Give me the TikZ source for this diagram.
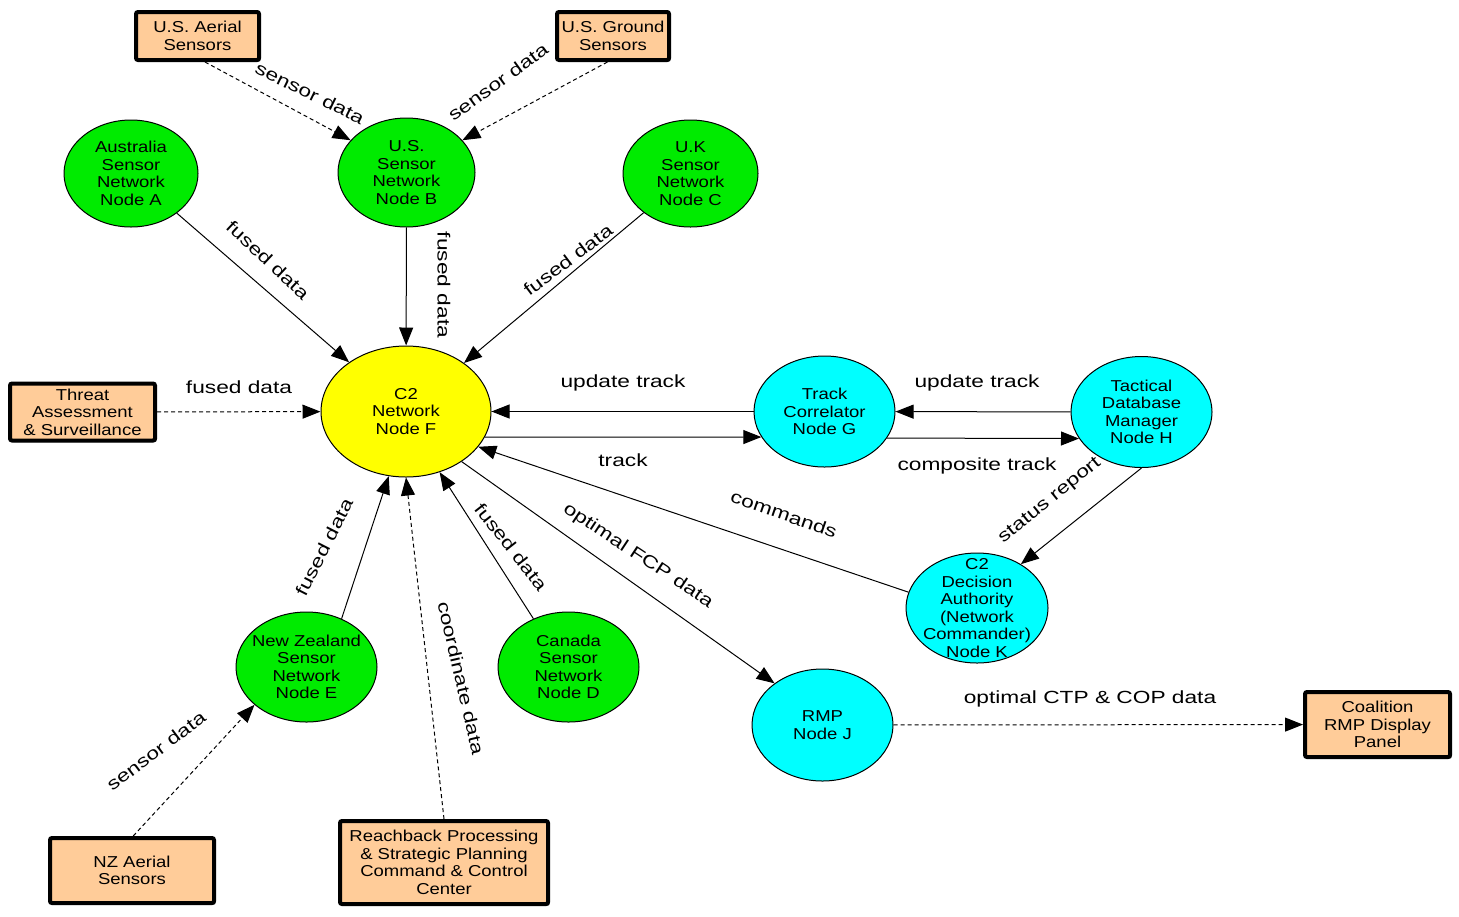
\documentclass[tikz,border=0pt]{standalone}
\usepackage{fontspec}
\usetikzlibrary{shapes.geometric,arrows.meta,shadows}
\newfontfamily\nodefont[FakeStretch=1.17]{Liberation Sans}
\newfontfamily\labfont[FakeStretch=1.29]{Liberation Sans}
\definecolor{nodegreen}{RGB}{0,235,0}
\definecolor{nodecyan}{RGB}{0,255,255}
\definecolor{nodeyellow}{RGB}{255,255,0}
\definecolor{boxpeach}{RGB}{255,204,153}
\begin{document}
\begin{tikzpicture}[x=0.5pt,y=-0.5pt,
  txt/.style={font=\nodefont\fontsize{7.9}{8.75}\selectfont, align=center, inner sep=0pt},
  lab/.style={font=\labfont\fontsize{8.8}{10}\selectfont, inner sep=0pt},
  ell/.style 2 args={ellipse, draw, line width=0.5pt, inner sep=0pt,
    minimum width=#1, minimum height=#2},
  grn/.style={fill=nodegreen},
  cyn/.style={fill=nodecyan},
  yel/.style={fill=nodeyellow},
  srcbox/.style 2 args={draw, line width=2pt, fill=boxpeach, rounded corners=1pt,
    minimum width=#1, minimum height=#2, inner sep=0pt,
    drop shadow={shadow xshift=0.8pt, shadow yshift=-0.8pt, fill=black!70, opacity=1},
    txt},
  link/.style={line width=0.5pt, -{Triangle[length=9pt,width=7pt]}},
  dlink/.style={link, dash pattern=on 2pt off 1.5pt}
]
\useasboundingbox (0,0) rectangle (1459,916);

% source / sink boxes
\node[srcbox={61.5pt}{24pt}] (USA) at (197.5,36) {U.S. Aerial\\Sensors};
\node[srcbox={56pt}{24pt}] (USG) at (613,36) {U.S. Ground\\Sensors};
\node[srcbox={72.5pt}{28.5pt}] (TAS) at (82.5,412) {Threat\\Assessment\\\& Surveillance};
\node[srcbox={104pt}{41.5pt}] (RPC) at (444,862.5) {Reachback Processing\\\& Strategic Planning\\Command \& Control\\Center};
\node[srcbox={72.5pt}{32.5pt}] (CRD) at (1377.5,724.5) {Coalition\\RMP Display\\Panel};
\node[srcbox={82pt}{32.5pt}] (NZA) at (132,870.5) {NZ Aerial\\Sensors};

% network nodes
\node[ell={67pt}{53.5pt}, grn, label={[txt]center:Australia\\Sensor\\Network\\Node A}] (A) at (131,173.5) {};
\node[ell={68.5pt}{54.5pt}, grn, label={[txt]center:U.S.\\Sensor\\Network\\Node B}] (B) at (406.5,172.5) {};
\node[ell={67.5pt}{53.5pt}, grn, label={[txt]center:U.K\\Sensor\\Network\\Node C}] (C) at (690.5,173.5) {};
\node[ell={85pt}{65.5pt}, yel, label={[txt]center:C2\\Network\\Node F}] (F) at (406,411.5) {};
\node[ell={70.5pt}{55.5pt}, cyn, label={[txt]center:Track\\Correlator\\Node G}] (G) at (824.5,411.5) {};
\node[ell={70.5pt}{55.5pt}, cyn, label={[txt]center:Tactical\\Database\\Manager\\Node H}] (H) at (1141.5,412) {};
\node[ell={71pt}{55pt}, cyn, label={[txt]center:C2\\Decision\\Authority\\(Network\\Commander)\\Node K}] (K) at (977,608) {};
\node[ell={70.5pt}{55pt}, grn, label={[txt]center:New Zealand\\Sensor\\Network\\Node E}] (E) at (306.5,667) {};
\node[ell={70.5pt}{55pt}, grn, label={[txt]center:Canada\\Sensor\\Network\\Node D}] (D) at (568.5,667) {};
\node[ell={70.5pt}{56pt}, cyn, label={[txt]center:RMP\\Node J}] (J) at (822.5,725) {};

% connectors
\draw[dlink] (USA.-74) -- (B.150);
\draw[dlink] (USG.258) -- (B.30);
\draw[link] (A) -- (F);
\draw[link] (B) -- (F);
\draw[link] (C) -- (F);
\draw[dlink] (TAS) -- (F);
\draw[link] (G) -- (F);
\draw[link] (F.-18.4) -- (G.202.7);
\draw[link] (H) -- (G);
\draw[link] (G.-23.8) -- (H.203.5);
\draw[link] (H.south) -- (K.45);
\draw[link] (K.167) -- (F.-26);
\draw[link] (F.-42.9) -- (J.139.4);
\draw[dlink] (J) -- (CRD);
\draw[link] (E.54.7) -- (F.-105.5);
\draw[link] (D.126) -- (F.-61.7);
\draw[dlink] (RPC.north) -- (F.south);
\draw[dlink] (NZA.88) -- (E.216.5);

% connector labels
\node[lab, rotate=-26] (l1) at (310,93) {sensor data};
\node[lab, rotate=36] (l2) at (498,82) {sensor data};
\node[lab, rotate=-43] (l3) at (268,260) {fused data};
\node[lab, rotate=-90] (l4) at (444,285) {fused data};
\node[lab, rotate=37] (l5) at (568,260) {fused data};
\node[lab] (l6) at (239,387) {fused data};
\node[lab] (l7) at (623,383) {update track};
\node[lab] (l8) at (623,460) {track};
\node[lab] (l9) at (977,383) {update track};
\node[lab] (l10) at (977,466) {composite track};
\node[lab, rotate=39] (l11) at (1050,501) {status report};
\node[lab, rotate=-19] (l12) at (784,514) {commands};
\node[lab, rotate=-33.5] (l13) at (638,556) {optimal FCP data};
\node[lab] (l14) at (1090,699) {optimal CTP \& COP data};
\node[lab, rotate=63] (l15) at (324,547) {fused data};
\node[lab, rotate=-52] (l16) at (511,547) {fused data};
\node[lab, rotate=-77] (l17) at (461,678) {coordinate data};
\node[lab, rotate=37] (l18) at (156,751) {sensor data};
\end{tikzpicture}
\end{document}
